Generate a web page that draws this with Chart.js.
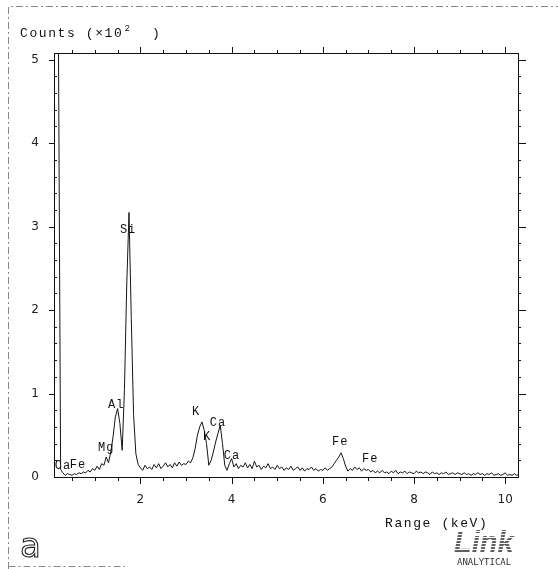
<!DOCTYPE html>
<html>
<head>
<meta charset="utf-8">
<script src="https://cdn.jsdelivr.net/npm/chart.js@4/dist/chart.umd.min.js"></script>
<style>
  html, body { margin: 0; padding: 0; background: #fff; }
  #wrap { position: relative; width: 558px; height: 569px; }
</style>
</head>
<body>
<div id="wrap"><canvas id="c" width="558" height="569"></canvas></div>
<script>
// ---- Data (energy in keV, counts in units of 10^2) ----
const keV = [
 0.10,0.15,0.20,0.25,0.30,0.35,0.40,0.45,0.50,0.55,0.60,0.65,0.70,0.75,0.80,0.85,0.90,0.95,
 1.00,1.05,1.10,1.15,1.20,1.25,1.30,1.35,1.40,1.45,1.50,1.55,1.60,1.65,1.70,1.75,1.80,1.85,1.90,1.95,
 2.00,2.05,2.10,2.15,2.20,2.25,2.30,2.35,2.40,2.45,2.50,2.55,2.60,2.65,2.70,2.75,2.80,2.85,2.90,2.95,
 3.00,3.05,3.10,3.15,3.20,3.25,3.30,3.35,3.40,3.45,3.50,3.55,3.60,3.65,3.70,3.75,3.80,3.85,3.90,3.95,
 4.00,4.05,4.10,4.15,4.20,4.25,4.30,4.35,4.40,4.45,4.50,4.55,4.60,4.65,4.70,4.75,4.80,4.85,4.90,4.95,
 5.00,5.05,5.10,5.15,5.20,5.25,5.30,5.35,5.40,5.45,5.50,5.55,5.60,5.65,5.70,5.75,5.80,5.85,5.90,5.95,
 6.00,6.05,6.10,6.15,6.20,6.25,6.30,6.35,6.40,6.45,6.50,6.55,6.60,6.65,6.70,6.75,6.80,6.85,6.90,6.95,
 7.00,7.05,7.10,7.15,7.20,7.25,7.30,7.35,7.40,7.45,7.50,7.55,7.60,7.65,7.70,7.75,7.80,7.85,7.90,7.95,
 8.00,8.05,8.10,8.15,8.20,8.25,8.30,8.35,8.40,8.45,8.50,8.55,8.60,8.65,8.70,8.75,8.80,8.85,8.90,8.95,
 9.00,9.05,9.10,9.15,9.20,9.25,9.30,9.35,9.40,9.45,9.50,9.55,9.60,9.65,9.70,9.75,9.80,9.85,9.90,9.95,
 10.00,10.05,10.10,10.15,10.20,10.25,10.30
];
const counts = [
 5.5,5.5,5.5,0.09,0.05,0.02,0.04,0.03,0.02,0.04,0.03,0.05,0.04,0.06,0.05,0.08,0.06,0.10,
 0.08,0.13,0.09,0.16,0.14,0.24,0.17,0.30,0.48,0.72,0.82,0.64,0.32,1.05,2.30,3.17,1.90,0.75,0.28,0.15,
 0.11,0.08,0.14,0.10,0.12,0.09,0.15,0.11,0.16,0.10,0.13,0.17,0.12,0.15,0.11,0.17,0.13,0.18,0.14,0.16,
 0.15,0.19,0.17,0.23,0.34,0.50,0.60,0.66,0.56,0.40,0.14,0.20,0.30,0.42,0.52,0.62,0.40,0.14,0.08,0.16,
 0.22,0.12,0.16,0.10,0.14,0.12,0.17,0.11,0.15,0.10,0.19,0.12,0.14,0.09,0.13,0.11,0.16,0.10,0.12,0.09,
 0.14,0.10,0.12,0.08,0.11,0.09,0.13,0.08,0.10,0.12,0.08,0.11,0.07,0.10,0.09,0.12,0.08,0.10,0.07,0.09,
 0.08,0.11,0.08,0.10,0.12,0.16,0.20,0.24,0.29,0.22,0.13,0.07,0.10,0.08,0.12,0.09,0.11,0.07,0.10,0.08,
 0.09,0.06,0.08,0.05,0.07,0.05,0.08,0.05,0.06,0.04,0.07,0.05,0.08,0.04,0.06,0.05,0.07,0.04,0.06,0.05,
 0.04,0.07,0.05,0.06,0.04,0.06,0.05,0.03,0.06,0.04,0.05,0.03,0.05,0.04,0.06,0.03,0.04,0.05,0.03,0.05,
 0.04,0.03,0.05,0.03,0.04,0.02,0.04,0.03,0.05,0.03,0.04,0.02,0.04,0.03,0.05,0.02,0.03,0.04,0.02,0.03,
 0.05,0.02,0.03,0.02,0.04,0.02,0.03
];
// Axis ticks
const xTickLabels = [2, 4, 6, 8, 10];
const xTickMarks = [0.5,1,1.5,2,2.5,3,3.5,4,4.5,5,5.5,6,6.5,7,7.5,8,8.5,9,9.5,10];
const yTickLabels = [0, 1, 2, 3, 4, 5];
const yTickMarks = [0.2,0.4,0.6,0.8,1,1.2,1.4,1.6,1.8,2,2.2,2.4,2.6,2.8,3,3.2,3.4,3.6,3.8,4,4.2,4.4,4.6,4.8,5];
// Peak annotations (element, keV, counts x10^2)
const peakText   = ['Ca', 'Fe', 'Mg', 'Al', 'Si', 'K',  'K',  'Ca', 'Ca', 'Fe', 'Fe'];
const peakKeV    = [0.30, 0.63, 1.25, 1.47, 1.73, 3.22, 3.46, 3.70, 4.01, 6.38, 7.04];
const peakCounts = [0.13, 0.14, 0.35, 0.86, 2.96, 0.78, 0.48, 0.65, 0.25, 0.42, 0.22];

const yAxisTitle = 'Counts (×10';
const yAxisExp = '2';
const xAxisTitle = 'Range (keV)';
const panelLetter = 'a';
const logoText = 'Link';
const logoSub = 'ANALYTICAL';

const decor = {
  id: 'decor',
  afterDraw(chart) {
    const { ctx, chartArea: a, scales: { x, y } } = chart;
    ctx.save();
    // scan frame
    ctx.strokeStyle = '#888';
    ctx.lineWidth = 1;
    ctx.setLineDash([7, 3, 2, 3]);
    ctx.beginPath();
    ctx.moveTo(8.5, 569); ctx.lineTo(8.5, 6.5); ctx.lineTo(558, 6.5);
    ctx.moveTo(8.5, 566.5); ctx.lineTo(125, 566.5);
    ctx.stroke();
    ctx.setLineDash([]);

    // plot frame
    ctx.strokeStyle = '#111';
    ctx.strokeRect(Math.round(a.left) + 0.5, Math.round(a.top) + 0.5,
                   Math.round(a.right - a.left), Math.round(a.bottom - a.top));
    // tick marks
    ctx.beginPath();
    xTickMarks.forEach(v => {
      const px = Math.round(x.getPixelForValue(v)) + 0.5;
      const major = xTickLabels.includes(v);
      ctx.moveTo(px, a.bottom); ctx.lineTo(px, a.bottom + (major ? 7 : 4));
      ctx.moveTo(px, a.top); ctx.lineTo(px, a.top - (major ? 6 : 3));
    });
    yTickMarks.forEach(v => {
      const py = Math.round(y.getPixelForValue(v)) + 0.5;
      const major = yTickLabels.includes(v);
      if (major) { ctx.moveTo(a.left, py); ctx.lineTo(a.left - 5, py); }
      else { ctx.moveTo(a.left, py); ctx.lineTo(a.left + 3, py); }
      ctx.moveTo(a.right, py); ctx.lineTo(a.right + (major ? 8 : 3), py);
    });
    ctx.stroke();

    // peak labels
    ctx.fillStyle = '#111';
    ctx.font = '12px "Liberation Mono"';
    ctx.letterSpacing = '1px';
    ctx.textAlign = 'center';
    ctx.textBaseline = 'middle';
    peakText.forEach((t, i) => {
      ctx.fillText(t, x.getPixelForValue(peakKeV[i]), y.getPixelForValue(peakCounts[i]));
    });

    // axis titles
    ctx.textAlign = 'left';
    ctx.textBaseline = 'alphabetic';
    ctx.font = '13px "Liberation Mono"';
    ctx.letterSpacing = '1.6px';
    ctx.fillText(yAxisTitle, 20, 37);
    let w = ctx.measureText(yAxisTitle).width;
    ctx.font = '9px "Liberation Mono"';
    ctx.fillText(yAxisExp, 20 + w + 1, 31);
    ctx.font = '13px "Liberation Mono"';
    ctx.fillText(')', 152, 37);
    ctx.fillText(xAxisTitle, 385, 527);
    ctx.letterSpacing = '0px';

    // panel letter
    ctx.font = '34px "DejaVu Sans"';
    ctx.lineWidth = 1.1;
    ctx.strokeStyle = '#222';
    ctx.strokeText(panelLetter, 20, 557);

    // logo
    ctx.font = 'italic bold 29px "Liberation Sans"';
    ctx.fillStyle = '#606060';
    ctx.fillText(logoText, 454, 552);
    ctx.strokeStyle = '#fff';
    ctx.lineWidth = 1;
    ctx.beginPath();
    for (let yy = 531.5; yy < 553; yy += 3) { ctx.moveTo(450, yy); ctx.lineTo(520, yy); }
    ctx.stroke();
    ctx.fillStyle = '#333';
    ctx.font = '9px "DejaVu Sans Mono"';
    ctx.fillText(logoSub, 457, 565);
    ctx.restore();
  }
};

new Chart(document.getElementById('c'), {
  type: 'line',
  data: {
    datasets: [{
      data: keV.map((e, i) => ({ x: e, y: counts[i] })),
      borderColor: '#151515',
      borderWidth: 1,
      pointRadius: 0,
      tension: 0,
      fill: false
    }]
  },
  options: {
    responsive: false,
    animation: false,
    devicePixelRatio: 1,
    layout: { padding: { top: 53, right: 40, left: 0, bottom: 0 } },
    plugins: { legend: { display: false }, tooltip: { enabled: false } },
    scales: {
      x: {
        type: 'linear', min: 0.105, max: 10.28,
        afterBuildTicks: s => { s.ticks = xTickLabels.map(v => ({ value: v })); },
        afterFit: s => { s.height = 92; },
        grid: { display: false, drawTicks: false },
        border: { display: false },
        ticks: { padding: 16, color: '#222', font: { family: 'DejaVu Sans', size: 12 }, maxRotation: 0, autoSkip: false }
      },
      y: {
        type: 'linear', min: 0, max: 5.08,
        afterBuildTicks: s => { s.ticks = yTickLabels.map(v => ({ value: v })); },
        afterFit: s => { s.width = 54; },
        grid: { display: false, drawTicks: false },
        border: { display: false },
        ticks: { padding: 15, color: '#222', font: { family: 'DejaVu Sans', size: 12 } }
      }
    }
  },
  plugins: [decor]
});
</script>
</body>
</html>
